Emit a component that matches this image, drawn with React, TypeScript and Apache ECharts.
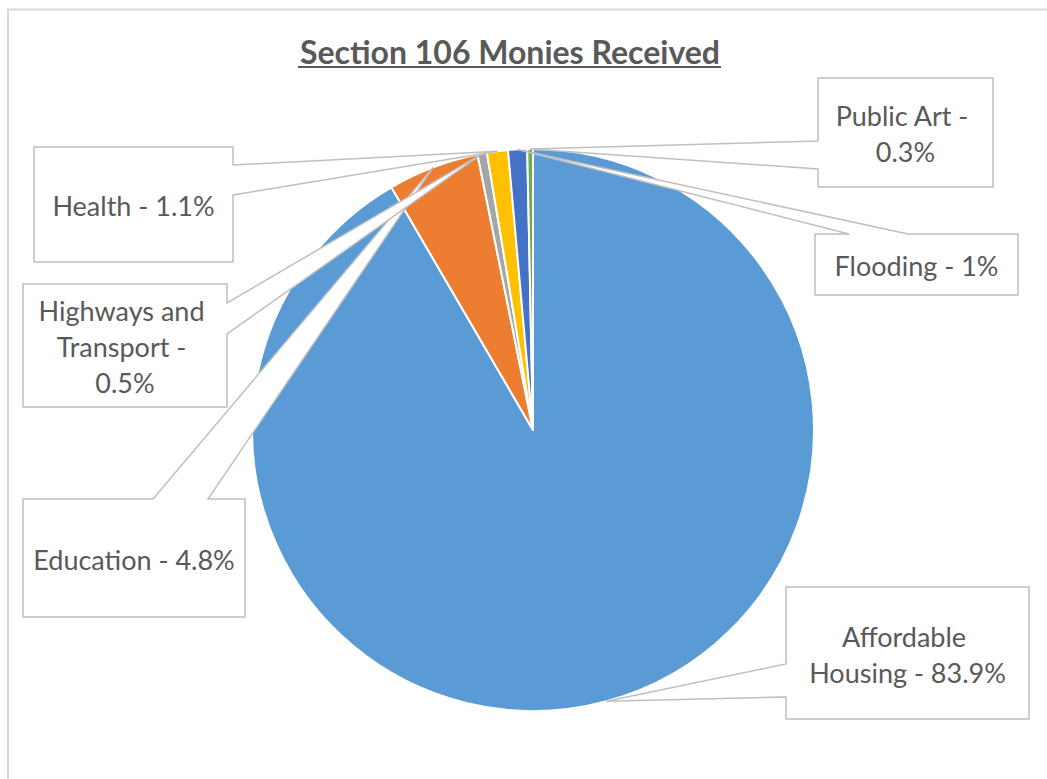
import React, { useEffect, useRef } from "react";
import * as echarts from "echarts";

const categories = [
  "Affordable Housing",
  "Education",
  "Highways and Transport",
  "Health",
  "Flooding",
  "Public Art",
];
const values = [83.9, 4.8, 0.5, 1.1, 1.0, 0.3];
const colors = ["#5B9BD5", "#ED7D31", "#A5A5A5", "#FFC000", "#4472C4", "#70AD47"];
const titleText = "Section 106 Monies Received";

// callout layout: box [x0,y0,x1,y1], side of wedge, wedge base, wrap width
const callouts = [
  { box: [786, 587, 1029, 719], side: "left", base: [664, 697], wrap: 212 },
  { box: [23, 499, 245, 617], side: "top", base: [153, 208], wrap: 220 },
  { box: [23, 284, 227, 407], side: "right", base: [303, 334], wrap: 180 },
  { box: [34, 147, 233, 262], side: "right", base: [165, 195], wrap: 195 },
  { box: [815, 234, 1018, 295], side: "top", base: [849, 908], wrap: 195 },
  { box: [818, 78, 993, 187], side: "left", base: [141, 169], wrap: 155 },
];

const CX = 533;
const CY = 430;
const R = 281;
const FONT = "Lato, 'Open Sans', sans-serif";

export default function App() {
  const ref = useRef<HTMLDivElement>(null);
  useEffect(() => {
    if (!ref.current) return;
    const chart = echarts.init(ref.current, undefined, { renderer: "svg" });
    const total = values.reduce((a, b) => a + b, 0);
    let acc = 0;
    const graphics: any[] = [
      {
        type: "rect",
        shape: { x: 8, y: 9.5, width: 1100, height: 800 },
        style: { fill: "none", stroke: "#D9D9D9", lineWidth: 2 },
        z: 0,
        silent: true,
      },
      {
        type: "text",
        x: 510,
        y: 51,
        style: {
          text: titleText,
          font: `bold 32px ${FONT}`,
          fill: "#595959",
          align: "center",
          verticalAlign: "middle",
        },
        z: 20,
      },
      {
        type: "line",
        shape: { x1: 298, y1: 67, x2: 721, y2: 67 },
        style: { stroke: "#595959", lineWidth: 2 },
        z: 20,
      },
    ];
    values.forEach((v, i) => {
      const a0 = (acc / total) * Math.PI * 2;
      acc += v;
      const a1 = (acc / total) * Math.PI * 2;
      const mid = (a0 + a1) / 2;
      const tip = [CX + R * Math.sin(mid), CY - R * Math.cos(mid)];
      const c = callouts[i];
      const [x0, y0, x1, y1] = c.box;
      const [b0, b1] = c.base;
      let pts: number[][];
      if (c.side === "left") {
        pts = [[x0, y0], [x1, y0], [x1, y1], [x0, y1], [x0, b1], tip, [x0, b0]];
      } else if (c.side === "right") {
        pts = [[x0, y0], [x1, y0], [x1, b0], tip, [x1, b1], [x1, y1], [x0, y1]];
      } else {
        pts = [[x0, y0], [b0, y0], tip, [b1, y0], [x1, y0], [x1, y1], [x0, y1]];
      }
      graphics.push({
        type: "polygon",
        shape: { points: pts },
        style: { fill: "#FFFFFF", stroke: "#BFBFBF", lineWidth: 1.5 },
        z: 10 + i,
        silent: true,
      });
      graphics.push({
        type: "text",
        x: (x0 + x1) / 2,
        y: (y0 + y1) / 2 + 1,
        style: {
          text: `${categories[i]} - ${v}%`,
          font: `27px ${FONT}`,
          fill: "#595959",
          align: "center",
          verticalAlign: "middle",
          width: c.wrap,
          overflow: "break",
          lineHeight: 36,
        },
        z: 10 + i,
      });
    });

    chart.setOption({
      animation: false,
      backgroundColor: "#FFFFFF",
      series: [
        {
          type: "pie",
          center: [CX, CY],
          radius: R,
          startAngle: 90,
          clockwise: true,
          label: { show: false },
          labelLine: { show: false },
          itemStyle: { borderColor: "#FFFFFF", borderWidth: 2 },
          data: categories.map((name, i) => ({
            name,
            value: values[i],
            itemStyle: { color: colors[i] },
          })),
          z: 2,
        },
      ],
      graphic: graphics,
    });
    return () => chart.dispose();
  }, []);
  return (
    <div
      ref={ref}
      style={{ position: "fixed", left: 0, top: 0, width: 1047, height: 779 }}
    />
  );
}
